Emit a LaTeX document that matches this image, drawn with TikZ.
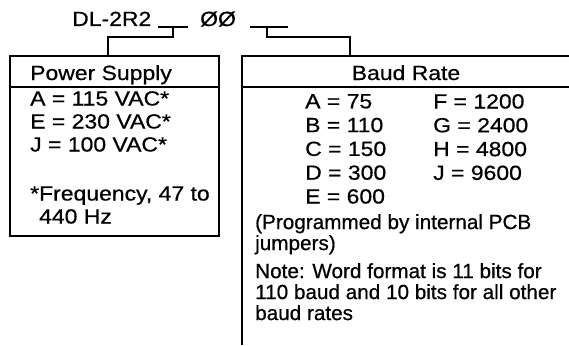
\documentclass[tikz,border=0pt]{standalone}
\usepackage{fontspec}
\setmainfont{Liberation Sans}[FakeStretch=1.12, FakeBold=0.6]
\newfontfamily\notefont{Liberation Sans}[FakeStretch=1.01, FakeBold=0.6]
\begin{document}
\begin{tikzpicture}[
    x=1pt,y=-1pt,
    line/.style={line width=1.8pt, draw=black},
    txt/.style={
        anchor=base west,
        inner sep=0pt,
        font=\fontsize{20.5}{23}\selectfont
    },
    block/.style={
        anchor=north west,
        inner sep=0pt,
        align=left,
        font=\fontsize{20.5}{23}\selectfont
    },
    note/.style={
        anchor=north west,
        inner sep=0pt,
        align=left,
        font=\notefont\fontsize{20.5}{21}\selectfont
    }
]
    \useasboundingbox (0,0) rectangle (569,345);

    % model number
    \node[txt] (code) at (72,26) {DL-2R2};
    \node[txt] (zero) at (200,26) {ØØ};

    \coordinate (selA) at (173,27);
    \coordinate (selB) at (267,27);
    \draw[line] (158,27) -- (188,27);
    \draw[line] (250,27) -- (288,27);

    % power supply
    \coordinate (psutop) at (108,56);
    \draw[line] (10,56) rectangle (219,236);
    \draw[line] (10,87) -- (219,87);
    \node[txt] (psuhead) at (30,80) {Power Supply};
    \node[block] (psulist) at (30,91) {A = 115 VAC*\\E = 230 VAC*\\J = 100 VAC*\\[26pt]*Frequency, 47 to\\\phantom{*}440 Hz};

    % baud rate
    \coordinate (baudtop) at (350,56);
    \draw[line] (569,56) -- (242,56) -- (242,345);
    \draw[line] (242,87) -- (569,87);
    \node[txt, anchor=base] (baudhead) at (406,80) {Baud Rate};
    \node[block, font=\fontsize{20.5}{23.8}\selectfont] (baudA) at (305,94) {A = 75\\B = 110\\C = 150\\D = 300\\E = 600};
    \node[block, font=\fontsize{20.5}{23.8}\selectfont] (baudF) at (433,94) {F = 1200\\G = 2400\\H = 4800\\J = 9600};
    \node[note] (jumper) at (255,214) {(Programmed by internal PCB\\jumpers)};
    \node[note] (word) at (255,263) {Note: Word format is 11 bits for\\110 baud and 10 bits for all other\\baud rates};

    \draw[line] (selA) -- ++(0,10) -| (psutop);
    \draw[line] (selB) -- ++(0,10) -| (baudtop);

\end{tikzpicture}
\end{document}
